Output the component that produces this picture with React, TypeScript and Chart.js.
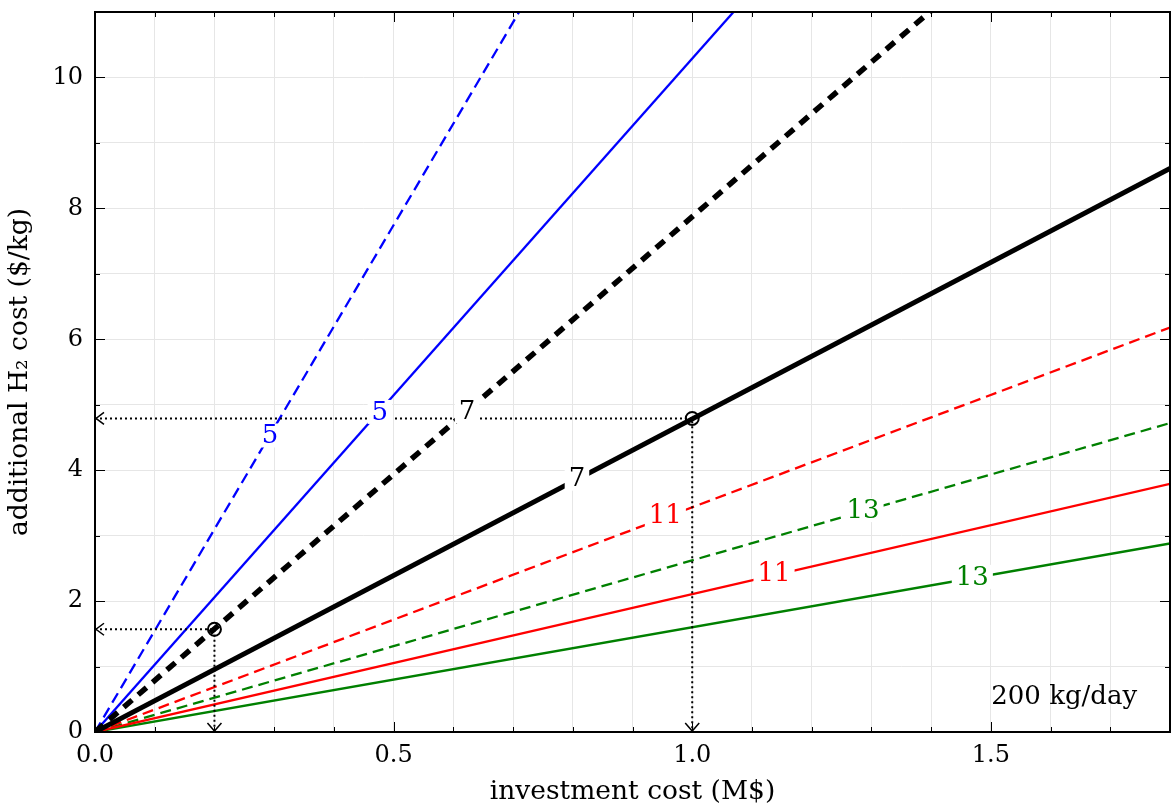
import React, { useEffect, useRef } from "react";
import { Chart, registerables } from "chart.js";

Chart.register(...registerables);

const FONT = "'DejaVu Serif', serif";

// Lines through the origin: x range and y value at each x end
const lineX = [0, 1.8];
const blueDashedY = [0, 27.88];
const blueSolidY = [0, 18.52];
const blackDashedY = [0, 14.17];
const blackSolidY = [0, 8.61];
const redDashedY = [0, 6.18];
const greenDashedY = [0, 4.72];
const redSolidY = [0, 3.79];
const greenSolidY = [0, 2.88];

// Highlighted points (open circles with dotted guide arrows)
const markerX = [0.2, 1.0];
const markerY = [1.57, 4.79];

// Contour-style inline labels
const contourLabels = ["5", "5", "7", "7", "11", "13", "11", "13"];
const labelX = [0.293, 0.477, 0.623, 0.807, 0.955, 1.286, 1.137, 1.469];
const labelY = [4.53, 4.89, 4.9, 3.87, 3.31, 3.39, 2.43, 2.37];
const labelColors = ["#0000ff", "#0000ff", "#000000", "#000000", "#ff0000", "#008000", "#ff0000", "#008000"];

// Axis config
const xMin = 0;
const xMax = 1.8;
const yMin = 0;
const yMax = 11;
const xTickLabels = ["0.0", "0.5", "1.0", "1.5"];
const yTickLabels = ["0", "2", "4", "6", "8", "10"];
const noteText = "200 kg/day";
const noteX = 1.745;
const noteY = 0.53;

const BLUE = "#0000ff";
const RED = "#ff0000";
const GREEN = "#008000";
const BLACK = "#000000";

function pts(xs: number[], ys: number[]) {
  return xs.map((x, i) => ({ x, y: ys[i] }));
}

const overlayPlugin = {
  id: "overlay",
  afterDatasetsDraw(chart: any) {
    const { ctx, scales } = chart;
    const xs = scales.x;
    const ys = scales.y;
    ctx.save();
    // arrowheads of dotted guides
    ctx.strokeStyle = BLACK;
    ctx.lineWidth = 1.5;
    for (let i = 0; i < markerX.length; i++) {
      const py = ys.getPixelForValue(markerY[i]);
      const x0 = xs.getPixelForValue(0);
      ctx.beginPath();
      ctx.moveTo(x0 + 9, py - 6);
      ctx.lineTo(x0 + 1, py);
      ctx.lineTo(x0 + 9, py + 6);
      ctx.stroke();
      const px = xs.getPixelForValue(markerX[i]);
      const y0 = ys.getPixelForValue(0);
      ctx.beginPath();
      ctx.moveTo(px - 7, y0 - 9);
      ctx.lineTo(px, y0 - 1);
      ctx.lineTo(px + 7, y0 - 9);
      ctx.stroke();
    }
    // inline labels
    ctx.font = `26px ${FONT}`;
    ctx.textAlign = "center";
    ctx.textBaseline = "middle";
    for (let i = 0; i < contourLabels.length; i++) {
      const px = xs.getPixelForValue(labelX[i]);
      const py = ys.getPixelForValue(labelY[i]);
      const w = ctx.measureText(contourLabels[i]).width;
      ctx.fillStyle = "#ffffff";
      ctx.fillRect(px - w / 2 - 4, py - 12, w + 8, 24);
      ctx.fillStyle = labelColors[i];
      ctx.fillText(contourLabels[i], px, py + 1);
    }
    // note
    ctx.fillStyle = BLACK;
    ctx.textAlign = "right";
    ctx.font = `26px ${FONT}`;
    ctx.fillText(noteText, xs.getPixelForValue(noteX), ys.getPixelForValue(noteY));
    ctx.restore();
  },
  afterDraw(chart: any) {
    const { ctx, scales } = chart;
    const xs = scales.x;
    const ys = scales.y;
    const { left, right, top, bottom } = chart.chartArea;
    ctx.save();
    ctx.strokeStyle = BLACK;
    ctx.lineWidth = 1;
    // inward ticks
    for (let k = 0; k <= Math.round((xMax - xMin) * 10); k++) {
      const v = xMin + k / 10;
      const major = k % 5 === 0;
      const len = major ? 10 : 5;
      const px = Math.round(xs.getPixelForValue(v)) + 0.5;
      ctx.beginPath();
      ctx.moveTo(px, bottom);
      ctx.lineTo(px, bottom - len);
      ctx.moveTo(px, top);
      ctx.lineTo(px, top + len);
      ctx.stroke();
    }
    for (let v = yMin; v <= yMax; v++) {
      const major = v % 2 === 0;
      const len = major ? 10 : 5;
      const py = Math.round(ys.getPixelForValue(v)) + 0.5;
      ctx.beginPath();
      ctx.moveTo(left, py);
      ctx.lineTo(left + len, py);
      ctx.moveTo(right, py);
      ctx.lineTo(right - len, py);
      ctx.stroke();
    }
    // spines
    ctx.lineWidth = 2;
    ctx.strokeRect(left, top, right - left, bottom - top);
    ctx.restore();
  },
};

export default function App() {
  const ref = useRef<HTMLCanvasElement | null>(null);
  useEffect(() => {
    if (!ref.current) return;
    const lineDs = (label: string, ys: number[], color: string, width: number, dash: number[]) => ({
      type: "line" as const,
      label,
      data: pts(lineX, ys),
      borderColor: color,
      backgroundColor: color,
      borderWidth: width,
      borderDash: dash,
      borderCapStyle: "butt" as const,
      pointRadius: 0,
      fill: false,
      tension: 0,
      clip: 0,
    });
    const chart = new Chart(ref.current, {
      type: "line",
      data: {
        datasets: [
          {
            type: "scatter" as const,
            label: "markers",
            data: pts(markerX, markerY),
            showLine: false,
            pointRadius: 6.5,
            pointBorderWidth: 2,
            pointBorderColor: BLACK,
            pointBackgroundColor: "rgba(0,0,0,0)",
            clip: false,
          } as any,
          ...markerX.map((mx, i) => ({
            type: "line" as const,
            label: "guide" + i,
            data: [
              { x: 0, y: markerY[i] },
              { x: mx, y: markerY[i] },
              { x: mx, y: 0 },
            ],
            borderColor: BLACK,
            borderWidth: 2,
            borderDash: [2, 3],
            pointRadius: 0,
            fill: false,
            clip: 0,
          })),
          lineDs("black solid", blackSolidY, BLACK, 5, []),
          lineDs("black dashed", blackDashedY, BLACK, 5.5, [11, 8]),
          lineDs("blue solid", blueSolidY, BLUE, 2.3, []),
          lineDs("blue dashed", blueDashedY, BLUE, 2.3, [11, 6]),
          lineDs("red solid", redSolidY, RED, 2.3, []),
          lineDs("red dashed", redDashedY, RED, 2.3, [11, 6]),
          lineDs("green solid", greenSolidY, GREEN, 2.3, []),
          lineDs("green dashed", greenDashedY, GREEN, 2.3, [11, 6]),
        ] as any,
      },
      options: {
        animation: false,
        responsive: false,
        events: [],
        layout: { autoPadding: false, padding: { top: 12, right: 1, left: 0, bottom: 0 } },
        plugins: { legend: { display: false }, tooltip: { enabled: false } },
        scales: {
          x: {
            type: "linear",
            min: xMin,
            max: xMax,
            afterFit: (s: any) => {
              s.height = 76;
              s.paddingLeft = 0;
              s.paddingRight = 0;
            },
            ticks: {
              stepSize: 0.1,
              autoSkip: false,
              maxRotation: 0,
              padding: 9,
              color: BLACK,
              font: { family: FONT, size: 24 },
              callback: (v: any) => {
                const n = Number(v);
                const r = Math.round(n * 2);
                if (Math.abs(n * 2 - r) > 1e-6) return "";
                return xTickLabels[r] ?? "";
              },
            },
            grid: { color: "#e6e6e6", lineWidth: 1, drawTicks: false },
            border: { display: false },
            title: {
              display: true,
              text: "investment cost (M$)",
              color: BLACK,
              font: { family: FONT, size: 26.5 },
              padding: { top: 0, bottom: 0 },
            },
          },
          y: {
            type: "linear",
            min: yMin,
            max: yMax,
            afterFit: (s: any) => {
              s.width = 95;
              s.paddingTop = 0;
              s.paddingBottom = 0;
            },
            ticks: {
              stepSize: 1,
              autoSkip: false,
              padding: 12,
              color: BLACK,
              font: { family: FONT, size: 24 },
              callback: (v: any) => {
                const n = Math.round(Number(v));
                if (n % 2 !== 0) return "";
                return yTickLabels[n / 2] ?? "";
              },
            },
            grid: { color: "#e6e6e6", lineWidth: 1, drawTicks: false },
            border: { display: false },
            title: {
              display: true,
              text: "additional H\u2082 cost ($/kg)",
              color: BLACK,
              font: { family: FONT, size: 26.5 },
              padding: { top: 4, bottom: 4 },
            },
          },
        },
      },
      plugins: [overlayPlugin],
    });
    return () => chart.destroy();
  }, []);
  return (
    <div style={{ position: "absolute", left: 0, top: 0, width: 1171, height: 808 }}>
      <canvas ref={ref} width={1171} height={808} style={{ display: "block" }} />
    </div>
  );
}
